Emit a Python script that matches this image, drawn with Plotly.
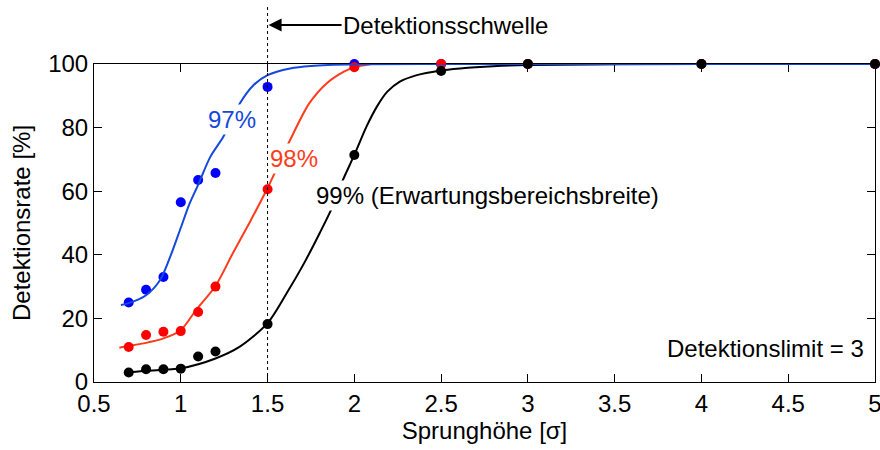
import plotly.graph_objects as go

# Sprunghöhe values of the measured points
x_points = [0.7, 0.8, 0.9, 1.0, 1.1, 1.2, 1.5, 2.0, 2.5, 3.0, 4.0, 5.0]

# Measured detection rates [%] for the three expectation ranges
rate_97 = [25.0, 29.0, 33.0, 56.5, 63.5, 65.7, 92.8, 100, 100, 100, 100, 100]
rate_98 = [11.0, 14.8, 15.8, 16.0, 22.0, 30.0, 60.6, 99.0, 100, 100, 100, 100]
rate_99 = [3.0, 4.0, 4.0, 4.2, 8.0, 9.6, 18.2, 71.4, 97.8, 100, 100, 100]

# Fitted curves (x, rate)
fit97_x = [0.655, 0.70, 0.80, 0.88, 0.94, 1.00, 1.05, 1.10, 1.17, 1.245, 1.34, 1.42, 1.50, 1.63, 1.75, 2.0, 2.5, 3.0, 4.0, 5.0]
fit97_y = [24.2, 24.8, 27.3, 32.0, 39.5, 48.5, 56.0, 62.0, 70.8, 77.1, 87.6, 93.4, 96.5, 98.6, 99.4, 99.9, 100, 100, 100, 100]

fit98_x = [0.646, 0.70, 0.80, 0.90, 1.00, 1.09, 1.20, 1.30, 1.40, 1.50, 1.63, 1.74, 1.84, 1.94, 2.00, 2.10]
fit98_y = [10.8, 11.3, 12.3, 13.7, 16.3, 22.8, 30.2, 40.5, 50.5, 61.0, 76.1, 87.6, 93.9, 97.6, 99.0, 100]

fit99_x = [0.69, 0.80, 1.00, 1.20, 1.34, 1.50, 1.61, 1.71, 1.80, 1.87, 1.93, 2.00, 2.07, 2.13, 2.19, 2.26, 2.36, 2.49, 2.61, 2.80, 3.00, 4.00, 5.00]
fit99_y = [2.9, 3.5, 4.3, 7.4, 11.1, 18.5, 27.9, 37.3, 46.8, 54.6, 63.0, 71.4, 80.3, 86.6, 91.3, 94.4, 96.5, 97.9, 98.6, 99.3, 99.7, 100, 100]

x_ticks = [0.5, 1, 1.5, 2, 2.5, 3, 3.5, 4, 4.5, 5]
x_tick_text = ["0.5", "1", "1.5", "2", "2.5", "3", "3.5", "4", "4.5", "5"]
y_ticks = [0, 20, 40, 60, 80, 100]

threshold = 1.5

BLUE_PT, BLUE_LN = "#0000FF", "#1548DC"
RED_PT, RED_LN = "#FF0000", "#FF3C1A"
BLACK = "#000000"
FONT = "Liberation Sans, Arial, sans-serif"
FS = 24

fig = go.Figure()


def fit_line(x, y, color):
    fig.add_trace(go.Scatter(x=x, y=y, mode="lines",
                             line=dict(color=color, width=2, shape="spline", smoothing=0.8),
                             cliponaxis=False, hoverinfo="skip", showlegend=False))


def points(y, color):
    fig.add_trace(go.Scatter(x=x_points, y=y, mode="markers", marker=dict(color=color, size=10),
                             cliponaxis=False, showlegend=False))


fit_line(fit99_x, fit99_y, BLACK)
fit_line(fit98_x, fit98_y, RED_LN)
points(rate_97, BLUE_PT)
points(rate_98, RED_PT)
fit_line(fit97_x, fit97_y, BLUE_LN)
points(rate_99, BLACK)

# dotted threshold line reaching above the plot
fig.add_shape(type="line", xref="x", yref="paper", x0=threshold, x1=threshold, y0=0, y1=1.186,
              line=dict(color=BLACK, width=1, dash="dot"))

annos = [
    dict(x=1.295, y=82.4, text="97%", font=dict(color=BLUE_LN)),
    dict(x=1.652, y=70.4, text="98%", font=dict(color=RED_LN)),
    dict(x=2.77, y=58.5, text="99% (Erwartungsbereichsbreite)", font=dict(color=BLACK)),
]
for a in annos:
    a["font"].update(family=FONT, size=FS)
    fig.add_annotation(xref="x", yref="y", showarrow=False, bgcolor="white", borderpad=1, **a)

fig.add_annotation(xref="paper", yref="paper", x=0.988, y=0.104, xanchor="right", yanchor="middle",
                   text="Detektionslimit = 3", showarrow=False, font=dict(family=FONT, size=FS, color=BLACK))

fig.add_annotation(xref="x", yref="paper", x=threshold, y=1.1226, text="Detektionsschwelle",
                   showarrow=True, ax=178, ay=0, arrowhead=2, arrowsize=1.3, arrowwidth=2,
                   arrowcolor=BLACK, standoff=1, font=dict(family=FONT, size=FS, color=BLACK))

axis_common = dict(showline=True, linecolor=BLACK, linewidth=1, mirror="ticks", ticks="inside",
                   ticklen=8, tickcolor=BLACK, tickwidth=1, showgrid=False, zeroline=False,
                   automargin=False, tickfont=dict(family=FONT, size=FS, color=BLACK),
                   layer="below traces")

fig.update_xaxes(range=[0.5, 5], tickvals=x_ticks, ticktext=x_tick_text, ticklabeloverflow="allow",
                 title=dict(text="Sprunghöhe [σ]", font=dict(family=FONT, size=FS, color=BLACK), standoff=6),
                 **axis_common)
fig.update_yaxes(range=[0, 100], tickvals=y_ticks,
                 title=dict(text="Detektionsrate [%]", font=dict(family=FONT, size=FS, color=BLACK), standoff=10),
                 **axis_common)

fig.update_layout(width=880, height=450, margin=dict(l=94, r=5, t=64, b=68),
                  plot_bgcolor="white", paper_bgcolor="white", showlegend=False)

fig.write_html("out.html")
